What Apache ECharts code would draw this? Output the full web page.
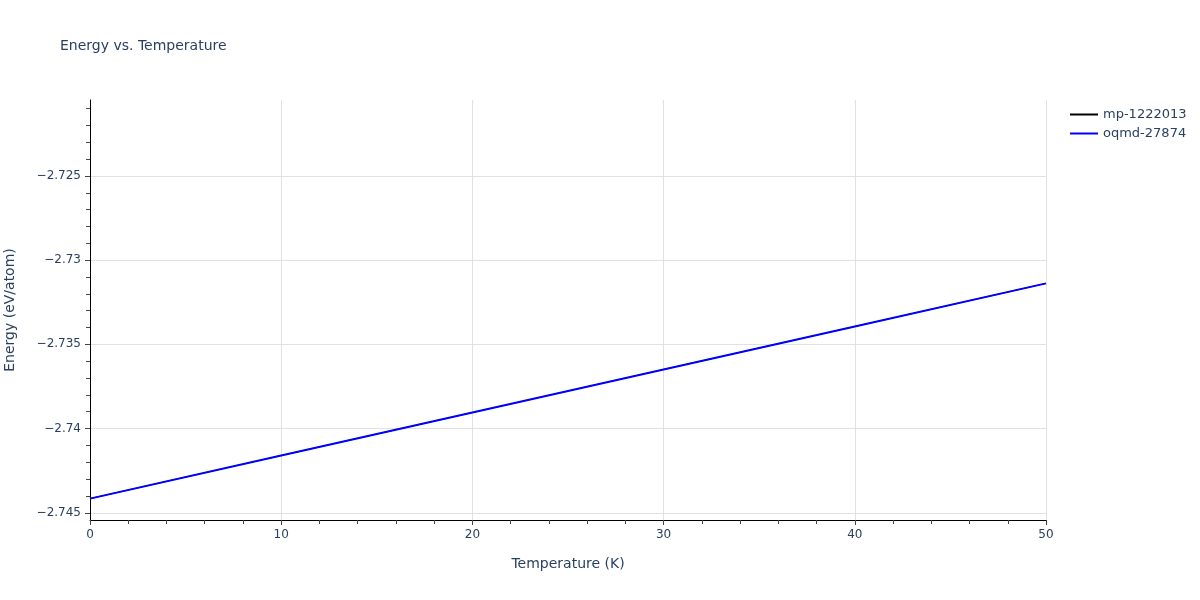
<!DOCTYPE html>
<html>
<head>
<meta charset="utf-8">
<script src="https://cdn.jsdelivr.net/npm/echarts@6/dist/echarts.min.js"></script>
<style>html,body{margin:0;padding:0;background:#fff;}#c{width:1200px;height:600px;}</style>
</head>
<body>
<div id="c"></div>
<script>
const temperatures = [0, 10, 20, 30, 40, 50];
const mpEnergy = [-2.74416, -2.74160, -2.73905, -2.73649, -2.73394, -2.73138];
const oqmdEnergy = [-2.74416, -2.74160, -2.73905, -2.73649, -2.73394, -2.73138];
const seriesNames = ['mp-1222013', 'oqmd-27874'];
const yMajorTicks = [-2.745, -2.74, -2.735, -2.73, -2.725];
const yMinorTicks = [-2.745, -2.744, -2.743, -2.742, -2.741, -2.74, -2.739, -2.738, -2.737, -2.736, -2.735, -2.734, -2.733, -2.732, -2.731, -2.73, -2.729, -2.728, -2.727, -2.726, -2.725, -2.724, -2.723, -2.722, -2.721];
const xMin = 0, xMax = 50, xInterval = 10;
const yMin = -2.74543, yMax = -2.72049;

const textColor = '#2a3f5f';
const font = '"DejaVu Sans", Verdana, sans-serif';
const chart = echarts.init(document.getElementById('c'));
chart.setOption({
  animation: false,
  backgroundColor: '#fff',
  title: {
    text: 'Energy vs. Temperature',
    left: 60, top: 39, padding: 0,
    textStyle: { color: textColor, fontSize: 14, fontWeight: 'normal', fontFamily: font }
  },
  legend: {
    orient: 'vertical',
    left: 1070, top: 108, padding: 0,
    itemWidth: 28, itemHeight: 2, itemGap: 6,
    icon: 'rect',
    textStyle: { color: textColor, fontSize: 13, fontFamily: font },
    data: seriesNames
  },
  grid: { left: 90, right: 154, top: 100, bottom: 80, containLabel: false, outerBoundsMode: 'none' },
  xAxis: {
    type: 'value', min: xMin, max: xMax, interval: xInterval,
    name: 'Temperature (K)', nameLocation: 'middle', nameGap: 37,
    nameTextStyle: { color: textColor, fontSize: 14, fontFamily: font },
    axisLine: { show: true, onZero: false, lineStyle: { color: '#000', width: 1 } },
    axisTick: { show: true, length: 5, lineStyle: { color: '#444' } },
    minorTick: { show: true, splitNumber: 5, length: 4, lineStyle: { color: '#444' } },
    axisLabel: { color: textColor, fontSize: 12, fontFamily: font, margin: 9 },
    splitLine: { show: true, lineStyle: { color: '#e1e1e1', width: 1 } }
  },
  yAxis: [{
    type: 'value', min: yMin, max: yMax, scale: true,
    name: 'Energy (eV/atom)', nameLocation: 'middle', nameGap: 73,
    nameTextStyle: { color: textColor, fontSize: 14, fontFamily: font },
    axisLine: { show: true, onZero: false, lineStyle: { color: '#000', width: 1 } },
    axisTick: { show: true, length: 5, customValues: yMajorTicks, lineStyle: { color: '#444' } },
    axisLabel: {
      color: textColor, fontSize: 12, fontFamily: font, margin: 9,
      customValues: yMajorTicks,
      formatter: v => (Math.round(v * 1000) / 1000).toString().replace('-', '\u2212')
    },
    splitLine: { show: true, lineStyle: { color: '#e1e1e1', width: 1 } }
  }, {
    type: 'value', min: yMin, max: yMax, scale: true, position: 'left',
    axisLine: { show: false },
    axisTick: { show: true, length: 4, customValues: yMinorTicks, lineStyle: { color: '#444' } },
    axisLabel: { show: false },
    splitLine: { show: false }
  }],
  series: [{
    name: seriesNames[0], type: 'line', showSymbol: false, symbol: 'none',
    data: temperatures.map((t, i) => [t, mpEnergy[i]]),
    lineStyle: { color: '#000000', width: 1 }, itemStyle: { color: '#000000' }
  }, {
    name: seriesNames[1], type: 'line', showSymbol: false, symbol: 'none',
    data: temperatures.map((t, i) => [t, oqmdEnergy[i]]),
    lineStyle: { color: '#0000ff', width: 2 }, itemStyle: { color: '#0000ff' }
  }]
});
</script>
</body>
</html>
